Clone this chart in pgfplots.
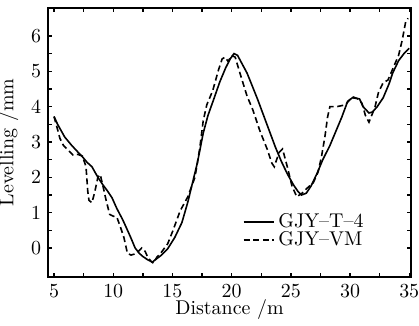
\documentclass[border=0pt]{standalone}
\usepackage{pgfplots}
\pgfplotsset{compat=1.18}
\begin{document}
\begin{tikzpicture}
\path[use as bounding box] (-24bp,-24.5bp) rectangle (185.5bp,138.5bp);
\begin{axis}[
  at={(0,0)}, anchor=south west,
  scale only axis, width=181.5bp, height=134.5bp,
  xmin=4.49, xmax=35.15, ymin=-0.82, ymax=6.79,
  xtick={5,10,...,35}, ytick={0,1,...,6},
  minor x tick num=1, minor y tick num=1,
  tick align=inside, major tick length=2.2bp, minor tick length=1.8bp,
  axis line style={line width=0.9bp}, every tick/.style={line width=0.7bp, black},
  xlabel={Distance /m}, ylabel={Levelling /mm},
  xlabel style={at={(axis description cs:0.5,-0.12)}, anchor=center, inner sep=0pt},
  ylabel style={at={(axis description cs:-0.109,0.5)}, anchor=center, inner sep=0pt},
  xticklabel style={inner sep=1pt, yshift=-2.6bp},
  yticklabel style={inner sep=1pt, xshift=-2.3bp},
  legend style={draw=none, fill=none, at={(axis description cs:0.53,0.26)}, anchor=north west,
    row sep=-3.5pt, inner sep=1pt},
  legend cell align=left,
  legend image code/.code={\draw[#1] (0bp,0bp) -- (15bp,0bp);},
]
\addplot[black, line width=0.8bp] coordinates {
(5,3.72) (5.3,3.5) (5.9,3.14) (6.5,2.9) (7.0,2.72) (7.4,2.58) (7.8,2.42) (8.2,2.3) (8.5,2.12) (8.8,1.95) (9.1,1.8) (9.5,1.62) (9.9,1.42) (10.3,1.12) (10.8,0.8) (11.1,0.58) (11.5,0.28) (11.85,0.0) (12.2,-0.15) (12.5,-0.24) (12.9,-0.33) (13.3,-0.4) (13.6,-0.32) (14.0,-0.22) (14.6,-0.02) (15.2,0.3) (15.8,0.72) (16.3,1.3) (16.7,1.85) (17.1,2.4) (17.6,3.25) (18.0,3.75) (18.5,4.22) (19.0,4.7) (19.5,5.1) (19.9,5.36) (20.2,5.5) (20.5,5.45) (20.9,5.2) (21.3,4.95) (21.7,4.62) (22.2,4.2) (22.7,3.75) (23.2,3.3) (23.7,2.85) (24.2,2.45) (24.7,2.1) (25.2,1.8) (25.6,1.6) (25.9,1.5) (26.3,1.55) (26.7,1.75) (27.2,2.1) (27.7,2.5) (28.3,2.9) (28.8,3.3) (29.3,3.7) (29.8,4.15) (30.2,4.25) (30.8,4.22) (31.1,4.0) (31.6,3.82) (31.9,3.85) (32.3,4.0) (32.8,4.25) (33.3,4.65) (33.6,4.95) (34.1,5.3) (34.6,5.52) (35,5.65)
};
\addlegendentry{GJY--T--4}
\addplot[black, line width=0.8bp, dash pattern=on 3bp off 1.8bp] coordinates {
(5,3.72) (5.3,3.35) (5.5,3.1) (5.8,2.9) (6.1,2.8) (6.6,2.63) (7.0,2.65) (7.4,2.6) (7.7,2.3) (7.85,1.6) (7.95,1.35) (8.2,1.28) (8.45,1.6) (8.7,2.0) (8.9,2.08) (9.1,1.8) (9.4,1.35) (9.7,0.95) (10.0,0.9) (10.3,0.88) (10.6,0.6) (10.9,0.3) (11.2,-0.15) (11.5,-0.2) (11.8,-0.17) (12.1,-0.1) (12.4,0.0) (12.7,-0.1) (12.9,-0.25) (13.2,-0.38) (13.4,-0.43) (13.7,-0.25) (14.0,-0.15) (14.6,0.12) (15.05,0.5) (15.65,1.05) (16.3,1.45) (16.9,2.0) (17.3,2.8) (17.6,3.6) (17.9,4.05) (18.4,4.45) (18.9,5.05) (19.2,5.35) (19.45,5.4) (19.7,5.28) (20.0,5.45) (20.3,5.4) (20.7,4.95) (21.3,4.3) (21.8,3.9) (22.4,3.3) (23.0,2.8) (23.4,2.4) (23.6,2.3) (24.0,2.7) (24.3,2.8) (24.7,2.3) (25.1,1.75) (25.5,1.45) (25.95,1.55) (26.4,1.7) (26.9,1.85) (27.3,2.15) (27.6,2.6) (27.9,3.2) (28.1,3.7) (28.3,4.0) (28.9,4.0) (29.6,4.05) (30.2,4.28) (30.6,4.23) (31.0,4.1) (31.3,3.75) (31.6,3.56) (32.1,3.98) (32.4,4.4) (32.8,4.68) (33.2,4.75) (33.65,5.1) (34.1,5.45) (34.4,5.87) (34.7,6.4) (34.9,6.5)
};
\addlegendentry{GJY--VM}
\end{axis}
\end{tikzpicture}
\end{document}
